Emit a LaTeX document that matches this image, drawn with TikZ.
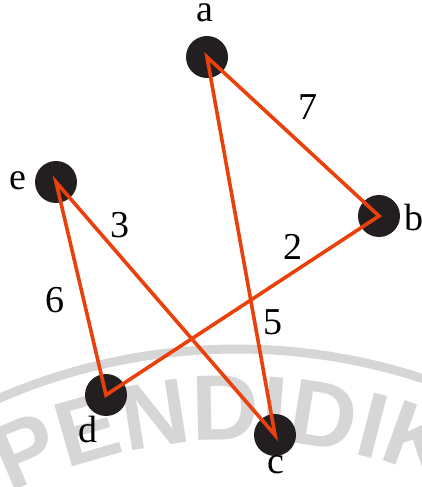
\documentclass[tikz,border=0pt]{standalone}
\usepackage{fontspec}
\setmainfont{Liberation Serif}
\newfontfamily\wmfont{Liberation Sans}
\usetikzlibrary{decorations.text}
\definecolor{edgered}{RGB}{234,64,12}
\definecolor{vertexblack}{RGB}{35,31,32}
\definecolor{wmgray}{RGB}{214,214,214}
\tikzset{
  vertex/.style={circle,fill=vertexblack,minimum size=42pt,inner sep=0},
  vlabel/.style={font=\fontsize{38}{40}\selectfont,inner sep=0},
  edge/.style={edgered,line width=3.6pt,line join=miter}
}

\begin{document}
\begin{tikzpicture}[x=1pt,y=1pt]
      \useasboundingbox (0,0) rectangle (422,487);
      \clip (0,0) rectangle (422,487);
      % watermark in the background
      \draw[wmgray,line width=9pt] (237,-460) ++(120:598) arc [start angle=120, end angle=60, radius=598];
      \path[decorate,decoration={text along path,text align=center,text color=wmgray,
            text={|\wmfont\bfseries\fontsize{93}{93}\selectfont|PENDIDIK}}]
            (237,-460) ++(132:507) arc [start angle=132, end angle=51, radius=507];
      % the vertices
      \node[vertex] (a) at (207,430) {};
      \node[vertex] (b) at (379,271) {};
      \node[vertex] (c) at (275,52) {};
      \node[vertex] (d) at (106,92) {};
      \node[vertex] (e) at (56,305) {};
      % the edges
      \draw[edge] (a.center) -- (b.center) -- (d.center) -- (e.center) -- (c.center) -- cycle;
      % label the vertices
      \node[vlabel] (la) at (205,474) {a};
      \node[vlabel] (lb) at (414,269) {b};
      \node[vlabel] (lc) at (276,22) {c};
      \node[vlabel] (ld) at (88,57) {d};
      \node[vlabel] (le) at (18,306) {e};
      % label the weights
      \node[vlabel] (w7) at (308,380) {7};
      \node[vlabel] (w3) at (120,262) {3};
      \node[vlabel] (w2) at (293,240) {2};
      \node[vlabel] (w6) at (55,187) {6};
      \node[vlabel] (w5) at (273,165) {5};
\end{tikzpicture}
\end{document}
